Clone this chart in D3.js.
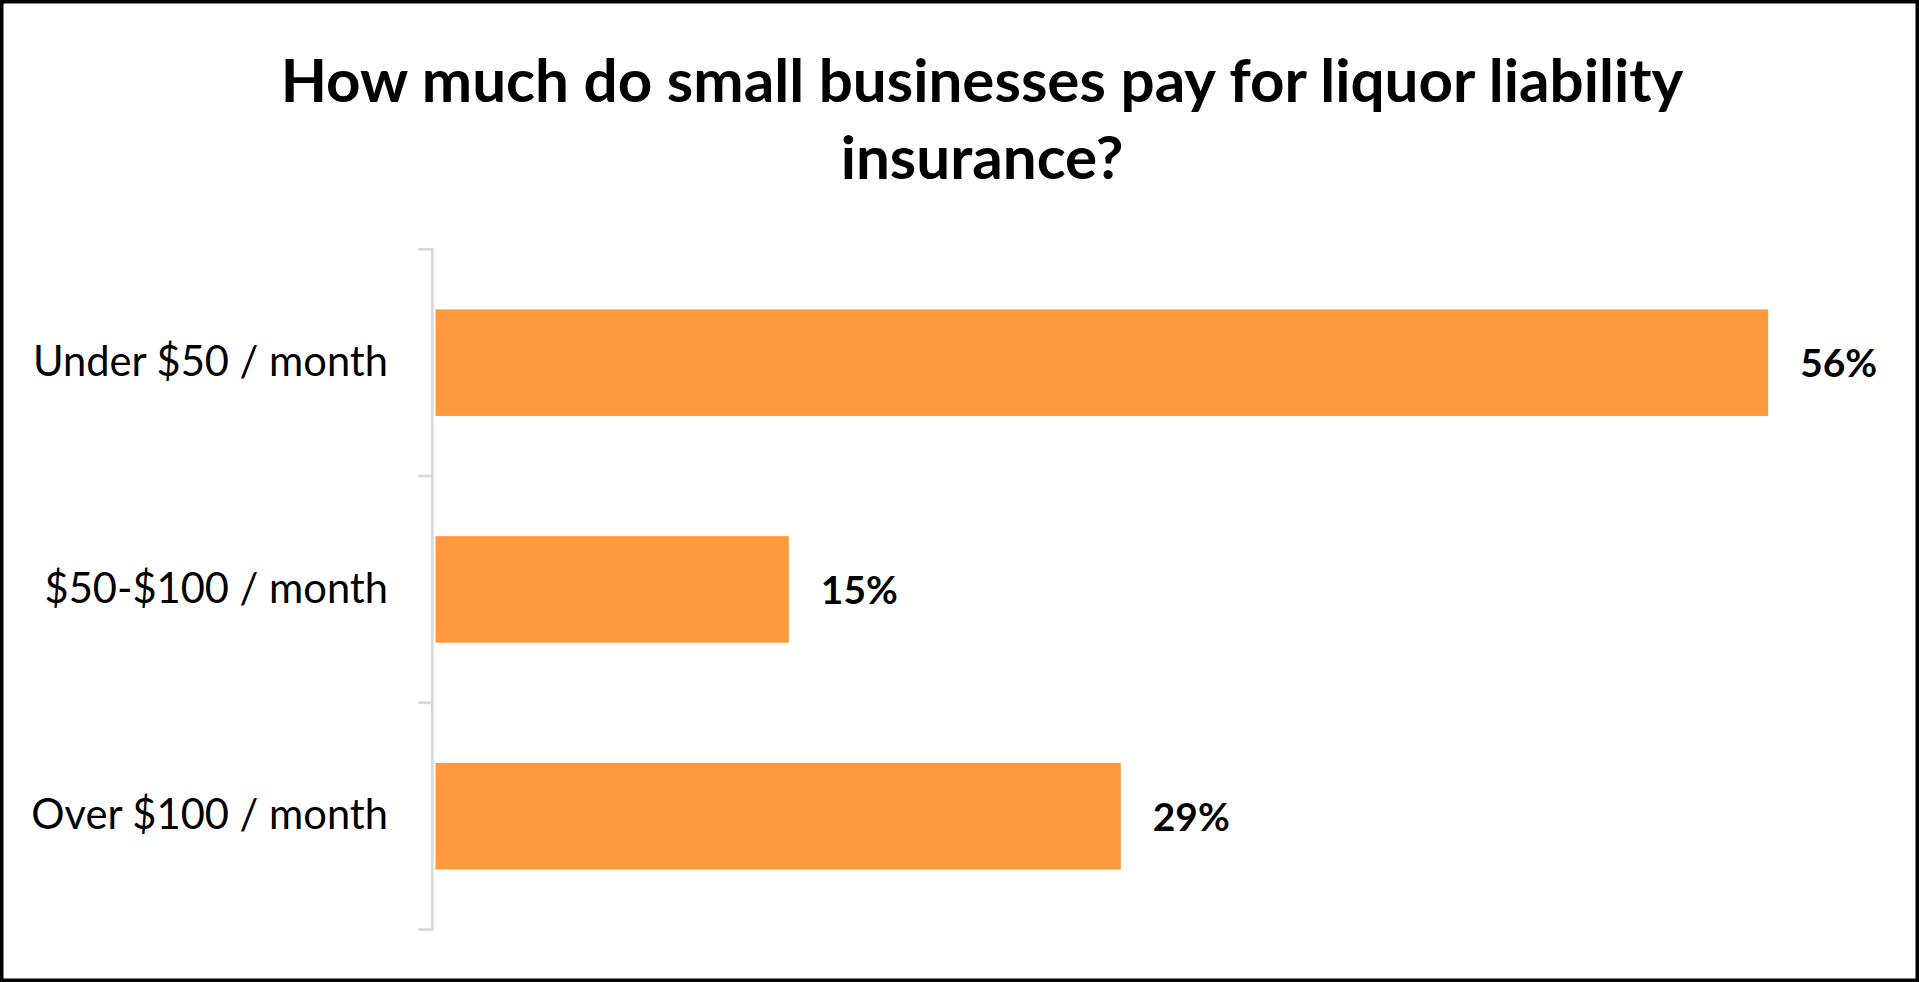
<!DOCTYPE html>
<html>
<head>
<meta charset="utf-8">
<script src="https://cdn.jsdelivr.net/npm/d3@7"></script>
<style>
  html, body { margin: 0; padding: 0; background: #fff; }
  svg { display: block; }
</style>
</head>
<body>
<svg id="chart" width="1919" height="982"></svg>
<script>
// ---- data ----
const titleLines = ["How much do small businesses pay for liquor liability", "insurance?"];
const categories = ["Under $50 / month", "$50-$100 / month", "Over $100 / month"];
const values = [56.2, 14.9, 28.9];
const xMax = 60;

// ---- layout ----
const W = 1919, H = 982;
const plot = { left: 435.5, right: 1858.3, top: 249.3, bottom: 929.5 };
const barColor = "#FF993D";
const axisColor = "#D9D9D9";
const fontFamily = "Lato, 'Open Sans', 'Liberation Sans', sans-serif";

const svg = d3.select("#chart");

svg.append("rect")
  .attr("x", 0).attr("y", 0).attr("width", W).attr("height", H)
  .attr("fill", "#fff");

const x = d3.scaleLinear().domain([0, xMax]).range([plot.left, plot.right]);
const y = d3.scaleBand().domain(categories)
  .range([plot.top, plot.bottom])
  .paddingInner(0.53).paddingOuter(0.265);

function fitWidth(sel, target) {
  const w = sel.node().getComputedTextLength();
  const s = parseFloat(sel.attr("font-size"));
  const ns = s * target / w;
  sel.attr("font-size", ns);
  return ns;
}

// Title
const titleCx = 982;
const t1 = svg.append("text")
  .attr("x", titleCx).attr("y", 101.7)
  .attr("text-anchor", "middle")
  .attr("font-family", fontFamily).attr("font-weight", "bold")
  .attr("font-size", 56).attr("fill", "#000")
  .text(titleLines[0]);
const ts = fitWidth(t1, 1403);
svg.append("text")
  .attr("x", titleCx).attr("y", 179.3)
  .attr("text-anchor", "middle")
  .attr("font-family", fontFamily).attr("font-weight", "bold")
  .attr("font-size", ts).attr("fill", "#000")
  .text(titleLines[1]);

// Bars
svg.append("g").selectAll("rect")
  .data(categories)
  .join("rect")
  .attr("x", x(0))
  .attr("y", d => y(d))
  .attr("width", (d, i) => x(values[i]) - x(0))
  .attr("height", y.bandwidth())
  .attr("fill", barColor);

// Y axis: line + ticks at band boundaries
const axisX = 432.3;
const boundaries = categories.map(c => y(c) - y.step() * y.paddingInner() / 2)
  .concat([y(categories[categories.length - 1]) + y.bandwidth() + y.step() * y.paddingInner() / 2]);
const axisG = svg.append("g");
axisG.append("line")
  .attr("x1", axisX).attr("x2", axisX)
  .attr("y1", boundaries[0] - 1.3).attr("y2", boundaries[boundaries.length - 1] + 1.3)
  .attr("stroke", axisColor).attr("stroke-width", 2.7);
axisG.selectAll("line.tick")
  .data(boundaries)
  .join("line")
  .attr("class", "tick")
  .attr("x1", 418.3).attr("x2", axisX)
  .attr("y1", d => d).attr("y2", d => d)
  .attr("stroke", axisColor).attr("stroke-width", 2.7);

// Category labels via d3 axis
const labelAxis = d3.axisLeft(y).tickSize(0).tickPadding(0);
const labG = svg.append("g")
  .attr("transform", `translate(388,0)`)
  .call(labelAxis);
labG.select(".domain").remove();
labG.selectAll("text")
  .attr("font-family", fontFamily)
  .attr("font-size", 40)
  .attr("fill", "#000");
const firstLab = labG.select(".tick text");
const ls = fitWidth(firstLab, 355);
labG.selectAll("text").attr("font-size", ls);
labG.attr("font-size", null).attr("font-family", null);

// Value labels
const fmt = v => d3.format(".0f")(v) + "%";
const vl = svg.append("g").selectAll("text")
  .data(categories)
  .join("text")
  .attr("x", (d, i) => x(values[i]) + 32)
  .attr("y", d => y(d) + y.bandwidth() / 2)
  .attr("dy", "0.38em")
  .attr("font-family", fontFamily).attr("font-weight", "bold")
  .attr("font-size", 42).attr("fill", "#000")
  .text((d, i) => fmt(values[i]));
const vs = fitWidth(d3.select(vl.nodes()[0]), 77);
vl.attr("font-size", vs);

// Frame
svg.append("rect")
  .attr("x", 1.75).attr("y", 1.75)
  .attr("width", W - 3.5).attr("height", H - 3.5)
  .attr("fill", "none").attr("stroke", "#000").attr("stroke-width", 3.5);
</script>
</body>
</html>
